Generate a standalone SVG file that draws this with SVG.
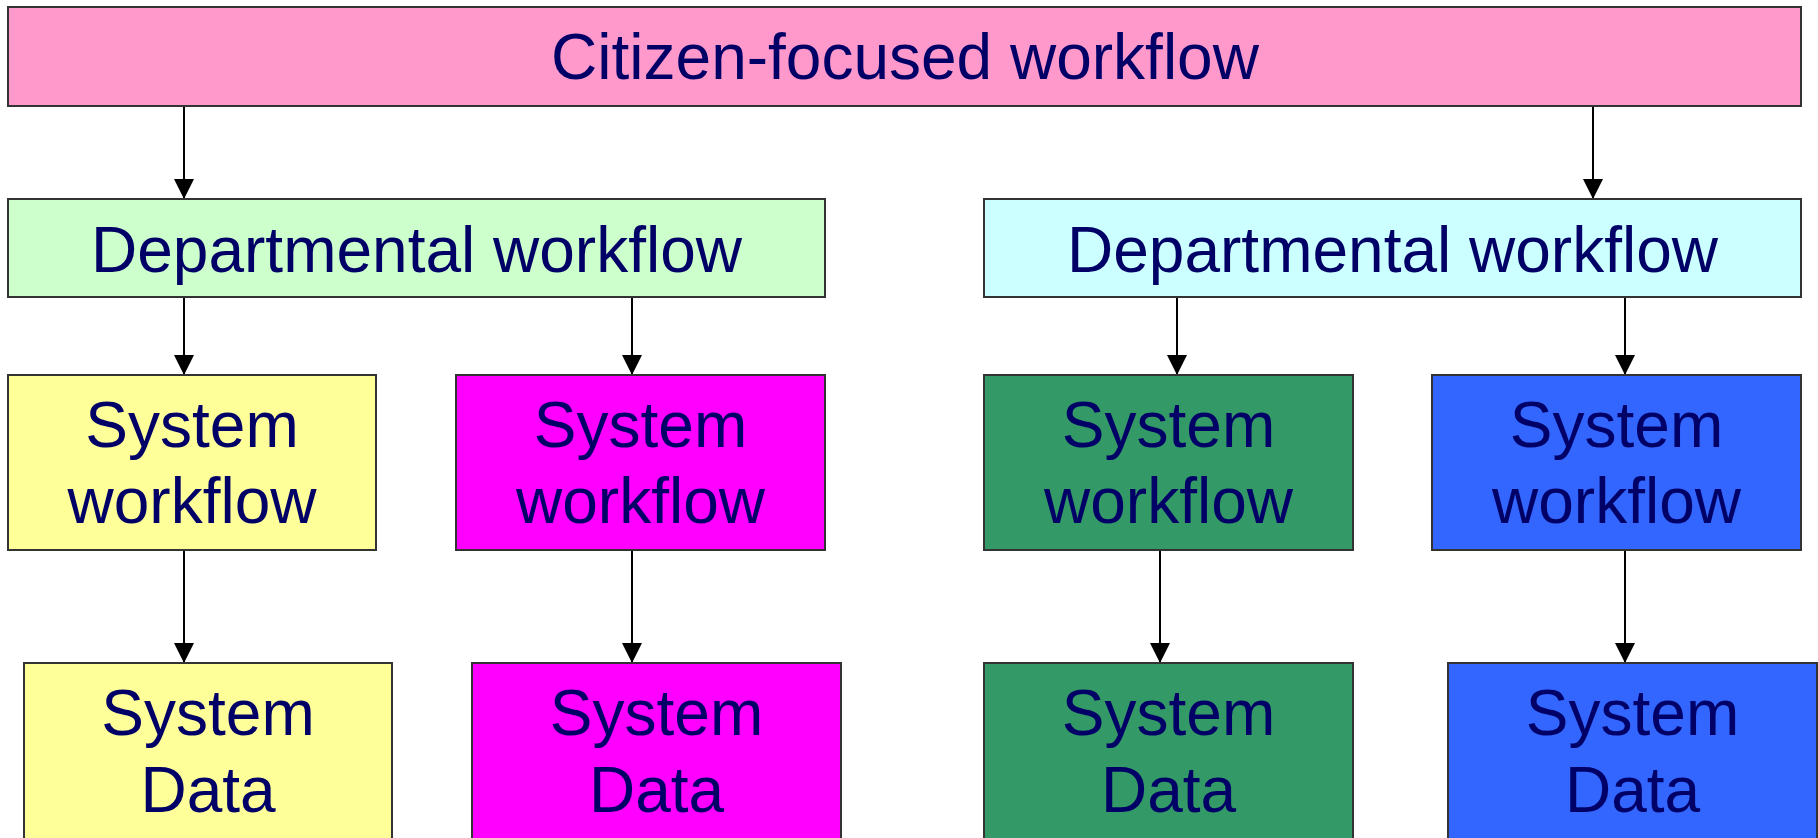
<svg xmlns="http://www.w3.org/2000/svg" width="1818" height="838" viewBox="0 0 1818 838">
<style>
.box{stroke:#333333;stroke-width:2}
.t{font-family:"Liberation Sans",Arial,sans-serif;font-size:64px;fill:#000066;text-anchor:middle}
.c{stroke:#000000;stroke-width:2;fill:none;marker-end:url(#ah)}
</style>
<defs>
<marker id="ah" markerUnits="userSpaceOnUse" markerWidth="20" markerHeight="20" refX="20" refY="10" orient="auto" viewBox="0 0 20 20">
<path d="M0,0 L20,10 L0,20 z" fill="#000000"/>
</marker>
</defs>
<rect width="1818" height="838" fill="#ffffff"/>
<g id="connectors">
<line class="c" x1="184" y1="104" x2="184" y2="199"/>
<line class="c" x1="1593" y1="104" x2="1593" y2="199"/>
<line class="c" x1="184" y1="295" x2="184" y2="375"/>
<line class="c" x1="632" y1="295" x2="632" y2="375"/>
<line class="c" x1="1177" y1="295" x2="1177" y2="375"/>
<line class="c" x1="1625" y1="295" x2="1625" y2="375"/>
<line class="c" x1="184" y1="549" x2="184" y2="663"/>
<line class="c" x1="632" y1="549" x2="632" y2="663"/>
<line class="c" x1="1160" y1="549" x2="1160" y2="663"/>
<line class="c" x1="1625" y1="549" x2="1625" y2="663"/>
</g>
<g id="citizen">
<rect class="box" x="8" y="7" width="1793" height="99" fill="#FF99CC"/>
<text class="t" x="905" y="79">Citizen-focused workflow</text>
</g>
<g id="dept-left">
<rect class="box" x="8" y="199" width="817" height="98" fill="#CCFFCC"/>
<text class="t" x="416.5" y="272">Departmental workflow</text>
</g>
<g id="dept-right">
<rect class="box" x="984" y="199" width="817" height="98" fill="#CCFFFF"/>
<text class="t" x="1392.5" y="272">Departmental workflow</text>
</g>
<g id="sysflow-yellow">
<rect class="box" x="8" y="375" width="368" height="175" fill="#FFFF99"/>
<text class="t" x="192" y="447">System</text>
<text class="t" x="192" y="523">workflow</text>
</g>
<g id="sysflow-magenta">
<rect class="box" x="456" y="375" width="369" height="175" fill="#FF00FF"/>
<text class="t" x="640.5" y="447">System</text>
<text class="t" x="640.5" y="523">workflow</text>
</g>
<g id="sysflow-green">
<rect class="box" x="984" y="375" width="369" height="175" fill="#339966"/>
<text class="t" x="1168.5" y="447">System</text>
<text class="t" x="1168.5" y="523">workflow</text>
</g>
<g id="sysflow-blue">
<rect class="box" x="1432" y="375" width="369" height="175" fill="#3366FF"/>
<text class="t" x="1616.5" y="447">System</text>
<text class="t" x="1616.5" y="523">workflow</text>
</g>
<g id="sysdata-yellow">
<rect class="box" x="24" y="663" width="368" height="176" fill="#FFFF99"/>
<text class="t" x="208" y="735">System</text>
<text class="t" x="208" y="812">Data</text>
</g>
<g id="sysdata-magenta">
<rect class="box" x="472" y="663" width="369" height="176" fill="#FF00FF"/>
<text class="t" x="656.5" y="735">System</text>
<text class="t" x="656.5" y="812">Data</text>
</g>
<g id="sysdata-green">
<rect class="box" x="984" y="663" width="369" height="176" fill="#339966"/>
<text class="t" x="1168.5" y="735">System</text>
<text class="t" x="1168.5" y="812">Data</text>
</g>
<g id="sysdata-blue">
<rect class="box" x="1448" y="663" width="369" height="176" fill="#3366FF"/>
<text class="t" x="1632.5" y="735">System</text>
<text class="t" x="1632.5" y="812">Data</text>
</g>
</svg>
